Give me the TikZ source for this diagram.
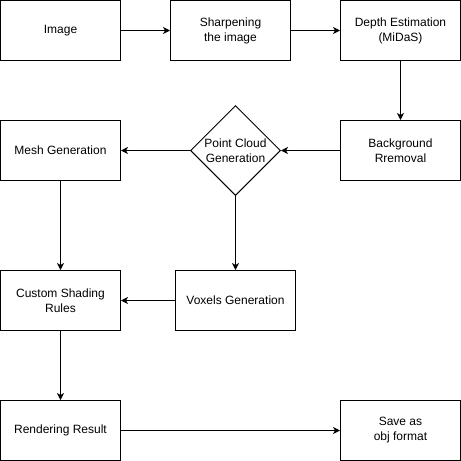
\documentclass[tikz,border=0pt]{standalone}
\usepackage{fontspec}
\setmainfont{Liberation Sans}
\usetikzlibrary{arrows.meta,shapes.geometric}
\begin{document}
\begin{tikzpicture}[x=1pt,y=-1pt,
  box/.style={draw,line width=1pt,minimum width=120pt,minimum height=60pt,inner sep=0pt,align=center,font=\fontsize{12}{15}\selectfont},
  dia/.style={draw,line width=1pt,diamond,minimum width=90pt,minimum height=90pt,inner sep=0pt,align=center,font=\fontsize{12}{15}\selectfont},
  conn/.style={line width=1pt,-{Stealth[length=7pt,width=7pt,inset=2pt]}}]
\useasboundingbox (0,0) rectangle (461,461);
\node[box] (img) at (60.5,30.5) {Image};
\node[box] (sharp) at (230.5,30.5) {Sharpening\\the image};
\node[box] (depth) at (400.5,30.5) {Depth Estimation\\(MiDaS)};
\node[box] (bg) at (400.5,150.5) {Background\\Rremoval};
\node[dia] (pc) at (235.5,150.5) {Point Cloud\\Generation};
\node[box] (mesh) at (60.5,150.5) {Mesh Generation};
\node[box] (shade) at (60.5,300.5) {Custom Shading\\Rules};
\node[box] (vox) at (235.5,300.5) {Voxels Generation};
\node[box] (rend) at (60.5,430.5) {Rendering Result};
\node[box] (save) at (400.5,430.5) {Save as\\obj format};
\draw[conn] (img) -- (sharp);
\draw[conn] (sharp) -- (depth);
\draw[conn] (depth) -- (bg);
\draw[conn] (bg) -- (pc);
\draw[conn] (pc) -- (mesh);
\draw[conn] (pc) -- (vox);
\draw[conn] (mesh) -- (shade);
\draw[conn] (vox) -- (shade);
\draw[conn] (shade) -- (rend);
\draw[conn] (rend) -- (save);
\end{tikzpicture}
\end{document}
